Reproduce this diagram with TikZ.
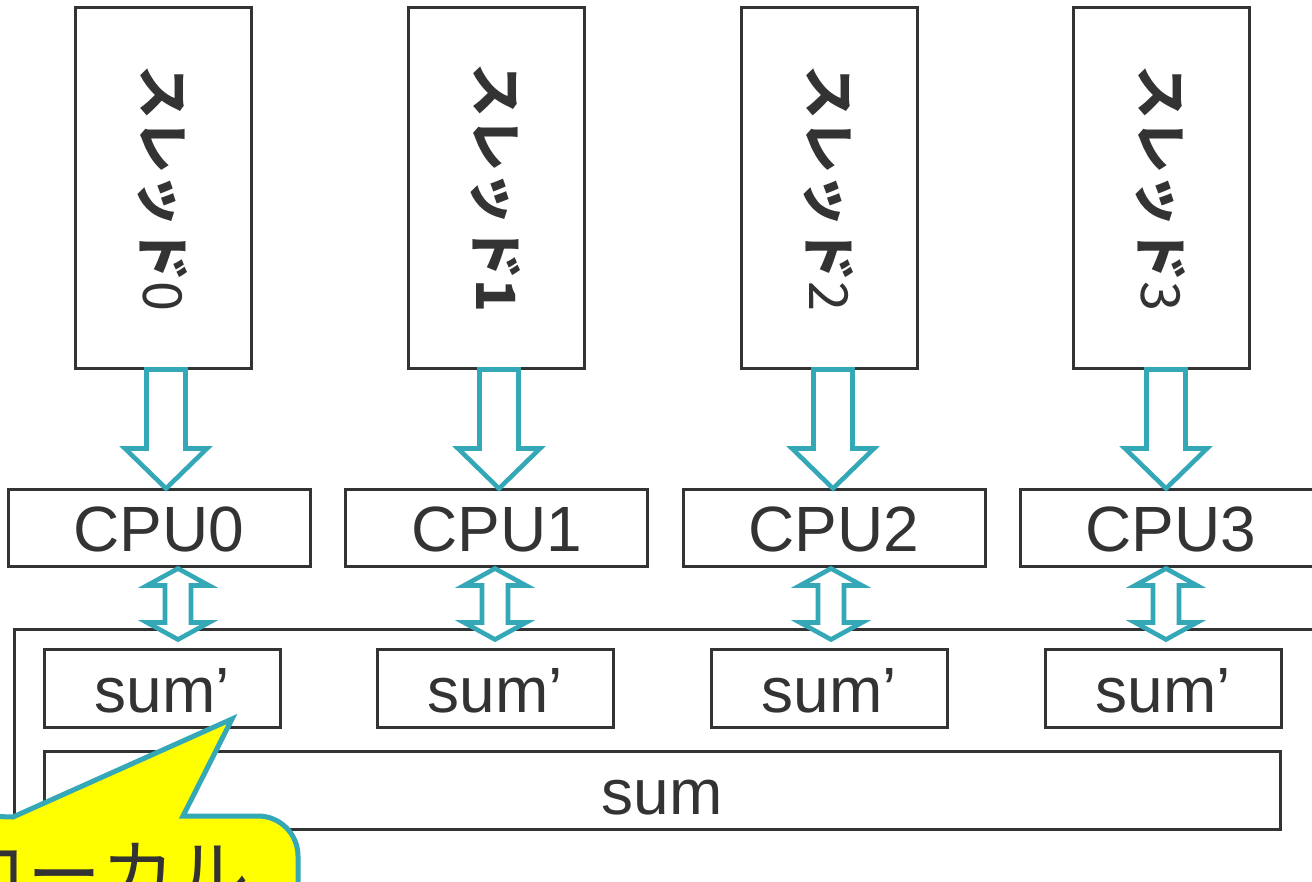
\documentclass[tikz,border=0pt]{standalone}
\usepackage{fontspec}
\setmainfont{Liberation Sans}
\newfontfamily\jpfont{Noto Sans CJK JP}
\usetikzlibrary{calc}

\begin{document}
\begin{tikzpicture}[x=0.5pt,y=-0.5pt,line join=miter]
  % Colors
  \definecolor{boxcolor}{RGB}{51,51,51}
  \definecolor{flowcolor}{RGB}{52,168,182}
  \definecolor{notecolor}{RGB}{255,255,0}

  \tikzset{
    box/.style={draw=boxcolor, line width=1.5pt, fill=white, inner sep=0pt, text=boxcolor,
      font=\fontsize{32}{38}\selectfont, text height=24pt, text depth=0pt},
    threadbox/.style={box, minimum width=88pt, minimum height=180pt},
    cpubox/.style={box, minimum width=151pt, minimum height=38.5pt},
    localbox/.style={box, minimum width=118pt, minimum height=39pt},
    threadtext/.style={rotate=-90, text=boxcolor, inner sep=0pt, font=\jpfont\fontsize{27}{30}\selectfont},
    flow/.style={draw=flowcolor, line width=2.3pt, fill=white}
  }

  \useasboundingbox (0,0) rectangle (1312,882);
  \clip (0,0) rectangle (1312,882);

  % threads
  \foreach \i/\x in {0/163,1/496,2/829,3/1161}
  {
    \node[threadbox] (t\i) at (\x,188) {};
  }
  \node[threadtext] at (t0) {\bfseries スレッド\mdseries 0};
  \node[threadtext] at (t1) {\bfseries スレッド1};
  \node[threadtext] at (t2) {\bfseries スレッド\mdseries 2};
  \node[threadtext] at (t3) {\bfseries スレッド\mdseries 3};

  % cpus
  \foreach \i/\x in {0/159,1/496.5,2/834,3/1171}
  {
    \node[cpubox] (c\i) at (\x,527.5) {CPU\i};
  }

  % shared memory
  \draw[draw=boxcolor, line width=1.5pt] (14,629) rectangle (1340,920);
  \foreach \i/\x in {0/162,1/495.5,2/829,3/1163}
  {
    \node[localbox] (s\i) at (\x,688) {sum’};
  }
  \node[box, minimum width=618pt, minimum height=39pt] (sum) at (662,790) {sum};

  % thread -> cpu
  \foreach \i/\ax in {0/166,1/499,2/833,3/1166}
  {
    \coordinate (ax\i) at (\ax,0);
    \coordinate (top) at (ax\i |- t\i.south);
    \coordinate (tip) at ($(ax\i |- c\i.north)+(0,1)$);
    \draw[flow] ($(top)+(-19.5,0)$) -- ($(tip)+(-19.5,-40)$) -- ($(tip)+(-41,-40)$) -- (tip)
      -- ($(tip)+(41,-40)$) -- ($(tip)+(19.5,-40)$) -- ($(top)+(19.5,0)$) -- cycle;
  }

  % cpu <-> sum'
  \foreach \i/\bx in {0/178,1/495,2/831,3/1166}
  {
    \coordinate (bx\i) at (\bx,0);
    \coordinate (up) at ($(bx\i |- c\i.south)+(0,1)$);
    \coordinate (down) at ($(bx\i |- s\i.north)+(0,-8)$);
    \draw[flow] (up) -- ($(up)+(31,17)$) -- ($(up)+(13,17)$) -- ($(down)+(13,-17)$)
      -- ($(down)+(31,-17)$) -- (down) -- ($(down)+(-31,-17)$) -- ($(down)+(-13,-17)$)
      -- ($(up)+(-13,17)$) -- ($(up)+(-31,17)$) -- cycle;
  }

  % callout
  \draw[draw=flowcolor, fill=notecolor, line width=2.5pt] (-20,816) -- (13,817) -- (232,719) -- (183,816)
    -- (258,816) arc[start angle=-90, end angle=0, radius=40] -- (298,920) -- (-20,920) -- cycle;
  \node[anchor=west, inner sep=0pt, text=boxcolor, font=\jpfont\fontsize{37}{44}\selectfont] (note) at (-47,873) {ローカル};

\end{tikzpicture}
\end{document}
